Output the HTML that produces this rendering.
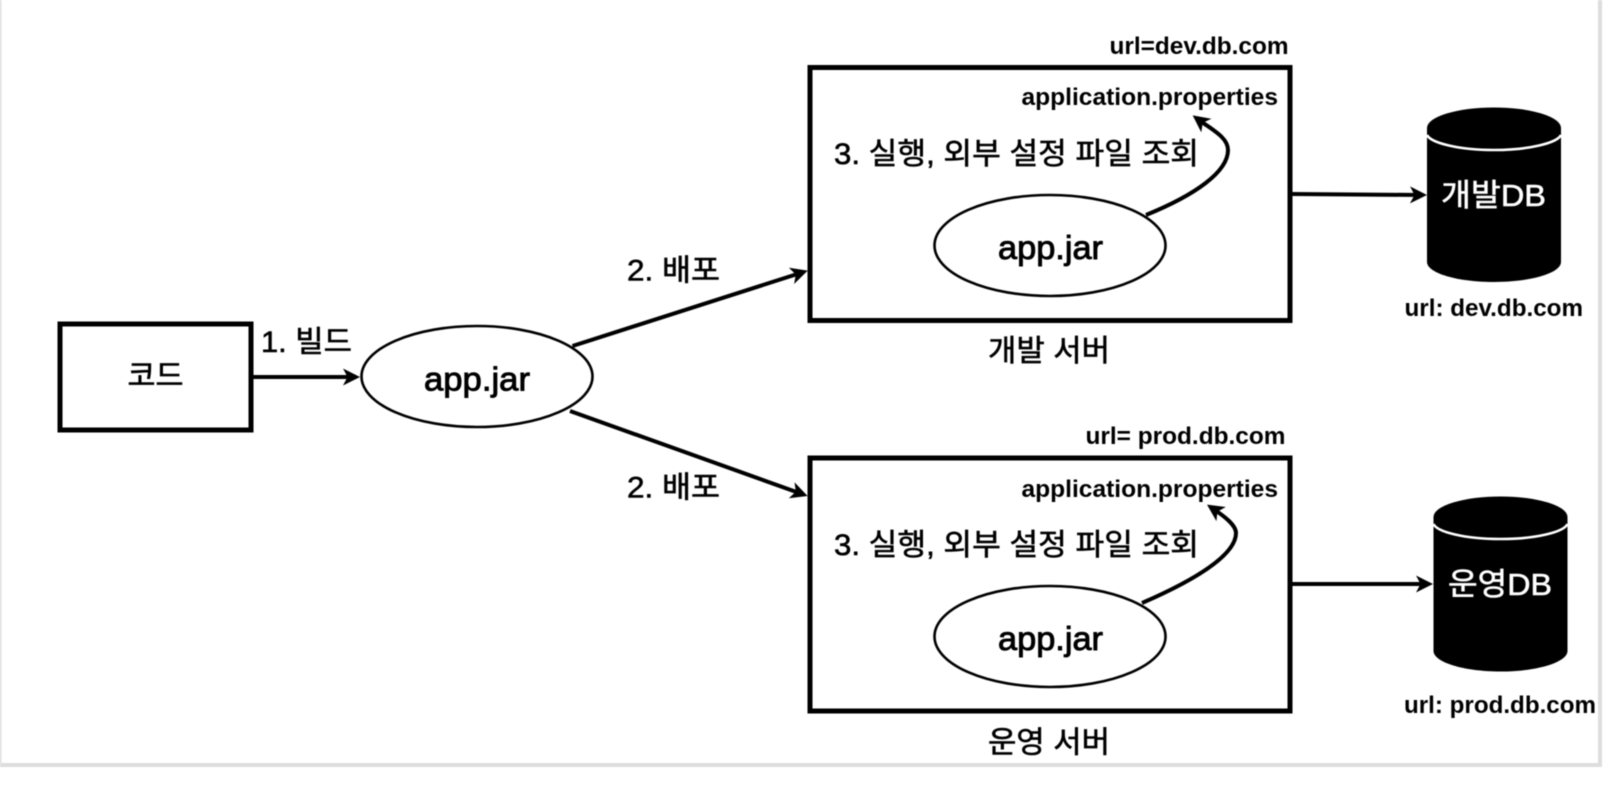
<!DOCTYPE html>
<html lang="ko">
<head>
<meta charset="utf-8">
<title>외부 설정 파일 조회</title>
<style>
html,body{margin:0;padding:0;background:#fff;width:1618px;height:788px;overflow:hidden}
svg{display:block;filter:blur(0.6px)}
text{font-family:"Liberation Sans","Noto Sans CJK KR",sans-serif;fill:#000}
.b{font-weight:700;font-size:24px}
.m{font-size:33px;stroke:#000;stroke-width:.9px}
.k{font-family:"Liberation Sans","Noto Sans CJK KR",sans-serif;font-size:30px;stroke:#000;stroke-width:.6px}
.w{fill:#fff;font-size:31px;stroke:#fff;stroke-width:.6px}
.l{fill:none;stroke:#000;stroke-width:4px}
.e{fill:#fff;stroke:#000;stroke-width:2.6px}
.r{fill:#fff;stroke:#000;stroke-width:5px}
</style>
</head>
<body>
<svg width="1618" height="788" viewBox="0 0 1618 788" xmlns="http://www.w3.org/2000/svg">
<defs>
<marker id="a" markerUnits="userSpaceOnUse" markerWidth="20" markerHeight="18" refX="11" refY="8.5" orient="auto">
<path d="M17,8.5 L0,0 L4.5,8.5 L0,17 Z" fill="#000"/>
</marker>
</defs>
<rect width="1618" height="788" fill="#fff"/>
<rect x="0" y="0" width="1.5" height="767" fill="#ddd"/>
<rect x="1598" y="0" width="4" height="767" fill="#ddd"/>
<rect x="0" y="763" width="1602" height="4" fill="#ddd"/>

<!-- code box -->
<rect class="r" x="60" y="324" width="191" height="106"/>
<text class="k" x="127.500" y="386" textLength="56" lengthAdjust="spacingAndGlyphs">코드</text>
<text class="k" x="261" y="352" textLength="91" lengthAdjust="spacingAndGlyphs">1. 빌드</text>
<line class="l" x1="253" y1="377" x2="354" y2="377" marker-end="url(#a)"/>

<!-- central jar -->
<ellipse class="e" cx="477" cy="376.500" rx="115.500" ry="50.500"/>
<text class="m" x="424" y="390.500" textLength="106" lengthAdjust="spacingAndGlyphs">app.jar</text>

<line class="l" x1="572.5" y1="346" x2="802" y2="272.5" marker-end="url(#a)"/>
<line class="l" x1="570" y1="411" x2="802" y2="494" marker-end="url(#a)"/>
<text class="k" x="627" y="280.500" textLength="93" lengthAdjust="spacingAndGlyphs">2. 배포</text>
<text class="k" x="627" y="497.500" textLength="93" lengthAdjust="spacingAndGlyphs">2. 배포</text>

<!-- dev server -->
<text class="b" x="1109.500" y="54" textLength="179" lengthAdjust="spacingAndGlyphs">url=dev.db.com</text>
<rect class="r" x="810" y="67.5" width="480" height="253"/>
<text class="b" x="1021.500" y="105" textLength="256.500" lengthAdjust="spacingAndGlyphs">application.properties</text>
<text class="k" x="834" y="164" textLength="365" lengthAdjust="spacingAndGlyphs">3. 실행, 외부 설정 파일 조회</text>
<ellipse class="e" cx="1050" cy="245.500" rx="115.500" ry="50.500"/>
<text class="m" x="998" y="259" textLength="105" lengthAdjust="spacingAndGlyphs">app.jar</text>
<path class="l" d="M1146,215 C1195,195 1228,172 1228,150 C1228,137 1211,129 1197.500,119" marker-end="url(#a)"/>
<text class="k" x="988" y="361" textLength="122" lengthAdjust="spacingAndGlyphs">개발 서버</text>
<line class="l" x1="1292" y1="194" x2="1421" y2="195" marker-end="url(#a)"/>

<!-- dev db -->
<path d="M1427,128 V262 C1427,273 1457,282 1494,282 C1531,282 1561,273 1561,262 V128 Z" fill="#000"/>
<ellipse cx="1494" cy="128" rx="67" ry="20.5" fill="#000"/>
<path d="M1427,135 C1431,143 1459,150 1494,150 C1529,150 1557,143 1561,135" fill="none" stroke="#fff" stroke-width="2.6"/>
<text class="w" x="1441" y="206" textLength="105" lengthAdjust="spacingAndGlyphs">개발DB</text>
<text class="b" x="1404.500" y="316" textLength="178.500" lengthAdjust="spacingAndGlyphs">url: dev.db.com</text>

<!-- prod server -->
<text class="b" x="1085.500" y="444" textLength="200" lengthAdjust="spacingAndGlyphs">url= prod.db.com</text>
<rect class="r" x="810" y="458" width="480" height="253"/>
<text class="b" x="1021.500" y="497" textLength="256.500" lengthAdjust="spacingAndGlyphs">application.properties</text>
<text class="k" x="834" y="555" textLength="365" lengthAdjust="spacingAndGlyphs">3. 실행, 외부 설정 파일 조회</text>
<ellipse class="e" cx="1050" cy="636.500" rx="115.500" ry="50.500"/>
<text class="m" x="998" y="650" textLength="105" lengthAdjust="spacingAndGlyphs">app.jar</text>
<path class="l" d="M1142,603 C1195,580 1236,555 1236,533 C1236,525 1224,516 1212,508" marker-end="url(#a)"/>
<text class="k" x="988" y="752.500" textLength="122" lengthAdjust="spacingAndGlyphs">운영 서버</text>
<line class="l" x1="1292" y1="584" x2="1427" y2="584" marker-end="url(#a)"/>

<!-- prod db -->
<path d="M1433.5,517 V651 C1433.5,662 1463,671.5 1500.5,671.5 C1538,671.5 1567.5,662 1567.5,651 V517 Z" fill="#000"/>
<ellipse cx="1500.5" cy="517" rx="67" ry="20.5" fill="#000"/>
<path d="M1433.5,524 C1437,532 1465,539 1500.5,539 C1536,539 1564,532 1567.5,524" fill="none" stroke="#fff" stroke-width="2.6"/>
<text class="w" x="1448" y="595" textLength="104" lengthAdjust="spacingAndGlyphs">운영DB</text>
<text class="b" x="1404" y="713" textLength="192" lengthAdjust="spacingAndGlyphs">url: prod.db.com</text>
</svg>
</body>
</html>
